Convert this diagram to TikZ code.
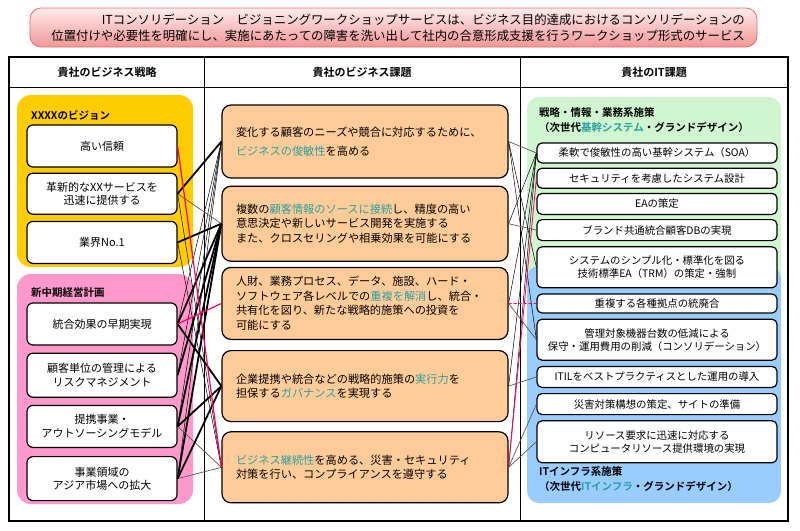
\documentclass[tikz,border=0pt]{standalone}
\usepackage{fontspec}
\setmainfont{Noto Sans CJK JP}[BoldFont={* Bold}]
\usetikzlibrary{positioning}

\definecolor{visionyellow}{RGB}{255,204,0}
\definecolor{planpink}{RGB}{255,153,204}
\definecolor{issueorange}{RGB}{255,204,153}
\definecolor{sysgreen}{RGB}{208,246,208}
\definecolor{infrablue}{RGB}{153,204,255}
\definecolor{hilite}{RGB}{40,160,160}
\definecolor{redlink}{RGB}{255,0,102}
\definecolor{bannertop}{RGB}{255,236,236}
\definecolor{bannerbottom}{RGB}{240,150,150}
\definecolor{bannerline}{RGB}{225,110,110}

\newcommand{\hili}[1]{\textcolor{hilite}{#1}}

\tikzset{stratbox/.style={draw=black, line width=1.2pt, fill=white, rounded corners=6pt,
    minimum width=150pt, inner sep=2pt, align=center, font=\fontsize{11}{13.5}\selectfont}}
\tikzset{issuebox/.style={draw=black, line width=1.2pt, fill=issueorange, rounded corners=9pt,
    text width=258pt, inner xsep=14pt, inner ysep=2pt, align=left, font=\fontsize{11.2}{14.5}\selectfont}}
\tikzset{itbox/.style={draw=black, line width=1.2pt, fill=white, rounded corners=5pt,
    minimum width=240pt, inner sep=1pt, align=center, font=\fontsize{10.4}{13}\selectfont}}
\tikzset{paneltitle/.style={anchor=west, inner sep=0pt, align=left, font=\bfseries\fontsize{10.5}{15.5}\selectfont}}
\tikzset{headtext/.style={inner sep=0pt, font=\bfseries\fontsize{11}{13}\selectfont}}
\tikzset{boldlink/.style={draw=black, line width=1.8pt}}
\tikzset{thinlink/.style={draw=black, line width=0.5pt}}
\tikzset{graylink/.style={draw=black!65, line width=0.7pt}}
\tikzset{pinklink/.style={draw=redlink, line width=1.2pt}}

\begin{document}
\begin{tikzpicture}[x=1pt, y=-1pt]
  \useasboundingbox (0,0) rectangle (800,530);

  % banner
  \node (banner) [draw=bannerline, line width=0.8pt, rounded corners=11pt, top color=bannertop,
    bottom color=bannerbottom, minimum width=727pt, minimum height=39pt] at (393.5,27.5) {};
  \node (bannertext) [anchor=east, align=right, inner sep=0pt, font=\fontsize{12.4}{16}\selectfont] at (745,27.5)
    {ITコンソリデーション　ビジョニングワークショップサービスは、ビジネス目的達成におけるコンソリデーションの\\
     位置付けや必要性を明確にし、実施にあたっての障害を洗い出して社内の合意形成支援を行うワークショップ形式のサービス};

  % table
  \draw[line width=2pt] (9,57) rectangle (788,521);
  \draw[line width=1pt] (9,87) -- (788,87);
  \draw[line width=0.8pt] (204,57) -- (204,521);
  \draw[line width=0.8pt] (520,57) -- (520,521);
  \node (H1) [headtext] at (107,72) {貴社のビジネス戦略};
  \node (H2) [headtext] at (362,72) {貴社のビジネス課題};
  \node (H3) [headtext] at (654,72) {貴社のIT課題};

  % panels
  \fill[visionyellow, rounded corners=14pt] (17,95) rectangle (193,267);
  \fill[planpink, rounded corners=14pt] (17,274) rectangle (193,504);
  \fill[sysgreen, rounded corners=12pt] (527,97) rectangle (781,300);
  \fill[infrablue, rounded corners=12pt] (527,266) rectangle (781,503);
  \node (VT) [paneltitle] at (31,115) {XXXXのビジョン};
  \node (PT) [paneltitle] at (31,293) {新中期経営計画};
  \node (GT) [paneltitle] at (539,120) {戦略・情報・業務系施策\\（次世代\hili{基幹システム}・グランドデザイン）};
  \node (BT) [paneltitle] at (539,479) {ITインフラ系施策\\（次世代\hili{ITインフラ}・グランドデザイン）};

  % strategy
  \node (L1) [stratbox, minimum height=42pt] at (102,146) {高い信頼};
  \node (L2) [stratbox, minimum height=41pt, below=5pt of L1] {革新的なXXサービスを\\迅速に提供する};
  \node (L3) [stratbox, minimum height=42pt, below=6pt of L2] {業界No.1};
  \node (P1) [stratbox, minimum height=42pt] at (102,324) {統合効果の早期実現};
  \node (P2) [stratbox, minimum height=44pt, below=7pt of P1] {顧客単位の管理による\\リスクマネジメント};
  \node (P3) [stratbox, minimum height=42pt, below=7pt of P2] {提携事業・\\アウトソーシングモデル};
  \node (P4) [stratbox, minimum height=44pt, below=8pt of P3] {事業領域の\\アジア市場への拡大};

  % business issues
  \node (M1) [issuebox, minimum height=73pt] at (365,141.5)
    {変化する顧客のニーズや競合に対応するために、\\[5pt]\hili{ビジネスの俊敏性}を高める};
  \node (M2) [issuebox, minimum height=75pt, below=7pt of M1]
    {複数の\hili{顧客情報のソースに接続}し、精度の高い\\意思決定や新しいサービス開発を実施する\\また、クロスセリングや相乗効果を可能にする};
  \node (M3) [issuebox, minimum height=72pt, below=5pt of M2]
    {人財、業務プロセス、データ、施設、ハード・\\ソフトウェア各レベルでの\hili{重複を解消}し、統合・\\共有化を図り、新たな戦略的施策への投資を\\可能にする};
  \node (M4) [issuebox, minimum height=71pt, below=10pt of M3]
    {企業提携や統合などの戦略的施策の\hili{実行力}を\\担保する\hili{ガバナンス}を実現する};
  \node (M5) [issuebox, minimum height=71pt, below=9pt of M4]
    {\hili{ビジネス継続性}を高める、災害・セキュリティ\\対策を行い、コンプライアンスを遵守する};

  % IT issues
  \node (R1) [itbox, minimum height=20pt] at (657,153) {柔軟で俊敏性の高い基幹システム（SOA）};
  \node (R2) [itbox, minimum height=20pt, below=4pt of R1] {セキュリティを考慮したシステム設計};
  \node (R3) [itbox, minimum height=21pt, below=4pt of R2] {EAの策定};
  \node (R4) [itbox, minimum height=21pt, below=4pt of R3] {ブランド共通統合顧客DBの実現};
  \node (R5) [itbox, minimum height=41pt, below=5pt of R4] {システムのシンプル化・標準化を図る\\技術標準EA（TRM）の策定・強制};
  \node (R6) [itbox, minimum height=19pt, below=5pt of R5] {重複する各種拠点の統廃合};
  \node (R7) [itbox, minimum height=41pt, below=5pt of R6] {管理対象機器台数の低減による\\保守・運用費用の削減（コンソリデーション）};
  \node (R8) [itbox, minimum height=21pt, below=5pt of R7] {ITILをベストプラクティスとした運用の導入};
  \node (R9) [itbox, minimum height=21pt, below=5pt of R8] {災害対策構想の策定、サイトの準備};
  \node (R10) [itbox, minimum height=42pt, below=5pt of R9] {リソース要求に迅速に対応する\\コンピュータリソース提供環境の実現};

  % strategy -> business issues
  \path (M1.west) edge[thinlink] (P1.east);
  \path (M1.west) edge[thinlink] (P2.east);
  \path (M1.west) edge[thinlink] (P3.east);
  \path (M1.west) edge[thinlink] (P4.east);
  \path (L2.east) edge[thinlink] (M5.west);
  \path (L3.east) edge[thinlink] (M5.west);
  \path (L2.east) edge[graylink] (M2.west);
  \path (P3.east) edge[graylink] (M5.west);
  \path (P4.east) edge[graylink] (M5.west);
  \path (L2.east) edge[boldlink] (M1.west);
  \path (L3.east) edge[boldlink] (M2.west);
  \path (P1.east) edge[boldlink] (M2.west);
  \path (P1.east) edge[boldlink] (M4.west);
  \path (P2.east) edge[boldlink] (M2.west);
  \path (P3.east) edge[boldlink] (M2.west);
  \path (P3.east) edge[boldlink] (M4.west);
  \path (P4.east) edge[boldlink] (M2.west);
  \path (P4.east) edge[boldlink] (M4.west);
  \path (L1.east) edge[pinklink] (M5.west);
  \path (P1.east) edge[pinklink] (M3.west);

  % business issues -> IT issues
  \path (M2.east) edge[thinlink] (R1.west);
  \path (M3.east) edge[thinlink] (R1.west);
  \path (M4.east) edge[thinlink] (R1.west);
  \path (M5.east) edge[thinlink] (R1.west);
  \path (M1.east) edge[thinlink] (R5.west);
  \path (M1.east) edge[thinlink] (R7.west);
  \path (M1.east) edge[graylink] (R1.west);
  \path (M2.east) edge[graylink] (R4.west);
  \path (M3.east) edge[graylink] (R7.west);
  \path (M4.east) edge[graylink] (R8.west);
  \path (M5.east) edge[graylink] (R9.west);
  \path (M5.east) edge[graylink] (R10.west);
  \path (M3.east) edge[pinklink, line width=0.8pt, densely dashed] (R6.west);
  \path (M5.east) edge[pinklink, line width=0.8pt] (R2.west);
\end{tikzpicture}
\end{document}
